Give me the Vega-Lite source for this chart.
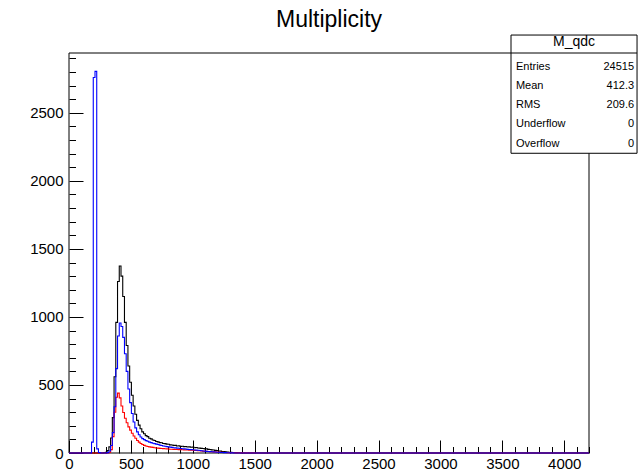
{
  "$schema": "https://vega.github.io/schema/vega-lite/v6.json",
  "width": 520,
  "height": 400,
  "autosize": {"type": "none"},
  "padding": {"left": 69, "top": 53, "right": 49, "bottom": 19},
  "background": "white",
  "config": {"view": {"stroke": null}, "font": "Liberation Sans"},
  "title": {"text": "Multiplicity", "fontSize": 23, "font": "Liberation Sans", "fontWeight": "normal", "color": "black", "anchor": "middle", "offset": 3},
  "datasets": {
    "hist": [
      {"s": "black", "x": 0, "n": 0},
      {"s": "black", "x": 280, "n": 2},
      {"s": "black", "x": 294, "n": 6},
      {"s": "black", "x": 308, "n": 18},
      {"s": "black", "x": 322, "n": 45},
      {"s": "black", "x": 336, "n": 110},
      {"s": "black", "x": 350, "n": 260},
      {"s": "black", "x": 364, "n": 560},
      {"s": "black", "x": 378, "n": 960},
      {"s": "black", "x": 392, "n": 1260},
      {"s": "black", "x": 406, "n": 1375},
      {"s": "black", "x": 420, "n": 1300},
      {"s": "black", "x": 434, "n": 1150},
      {"s": "black", "x": 448, "n": 960},
      {"s": "black", "x": 462, "n": 790},
      {"s": "black", "x": 476, "n": 640},
      {"s": "black", "x": 490, "n": 520},
      {"s": "black", "x": 504, "n": 425},
      {"s": "black", "x": 518, "n": 345},
      {"s": "black", "x": 532, "n": 285},
      {"s": "black", "x": 546, "n": 240},
      {"s": "black", "x": 560, "n": 205},
      {"s": "black", "x": 574, "n": 178},
      {"s": "black", "x": 588, "n": 155},
      {"s": "black", "x": 602, "n": 142},
      {"s": "black", "x": 616, "n": 128},
      {"s": "black", "x": 630, "n": 120},
      {"s": "black", "x": 644, "n": 108},
      {"s": "black", "x": 658, "n": 104},
      {"s": "black", "x": 672, "n": 96},
      {"s": "black", "x": 686, "n": 92},
      {"s": "black", "x": 700, "n": 85},
      {"s": "black", "x": 714, "n": 82},
      {"s": "black", "x": 728, "n": 76},
      {"s": "black", "x": 742, "n": 75},
      {"s": "black", "x": 756, "n": 70},
      {"s": "black", "x": 770, "n": 69},
      {"s": "black", "x": 784, "n": 65},
      {"s": "black", "x": 798, "n": 64},
      {"s": "black", "x": 812, "n": 60},
      {"s": "black", "x": 826, "n": 59},
      {"s": "black", "x": 840, "n": 56},
      {"s": "black", "x": 854, "n": 56},
      {"s": "black", "x": 868, "n": 52},
      {"s": "black", "x": 882, "n": 53},
      {"s": "black", "x": 896, "n": 49},
      {"s": "black", "x": 910, "n": 50},
      {"s": "black", "x": 924, "n": 47},
      {"s": "black", "x": 938, "n": 48},
      {"s": "black", "x": 952, "n": 44},
      {"s": "black", "x": 966, "n": 45},
      {"s": "black", "x": 980, "n": 42},
      {"s": "black", "x": 994, "n": 43},
      {"s": "black", "x": 1008, "n": 39},
      {"s": "black", "x": 1022, "n": 40},
      {"s": "black", "x": 1036, "n": 37},
      {"s": "black", "x": 1050, "n": 36},
      {"s": "black", "x": 1064, "n": 34},
      {"s": "black", "x": 1078, "n": 33},
      {"s": "black", "x": 1092, "n": 30},
      {"s": "black", "x": 1106, "n": 30},
      {"s": "black", "x": 1120, "n": 27},
      {"s": "black", "x": 1134, "n": 26},
      {"s": "black", "x": 1148, "n": 23},
      {"s": "black", "x": 1162, "n": 22},
      {"s": "black", "x": 1176, "n": 19},
      {"s": "black", "x": 1190, "n": 18},
      {"s": "black", "x": 1204, "n": 15},
      {"s": "black", "x": 1218, "n": 14},
      {"s": "black", "x": 1232, "n": 11},
      {"s": "black", "x": 1246, "n": 10},
      {"s": "black", "x": 1260, "n": 8},
      {"s": "black", "x": 1274, "n": 7},
      {"s": "black", "x": 1288, "n": 6},
      {"s": "black", "x": 1302, "n": 5},
      {"s": "black", "x": 1316, "n": 4},
      {"s": "black", "x": 1330, "n": 3},
      {"s": "black", "x": 1344, "n": 3},
      {"s": "black", "x": 1358, "n": 2},
      {"s": "black", "x": 1372, "n": 2},
      {"s": "black", "x": 1386, "n": 1},
      {"s": "black", "x": 1400, "n": 1},
      {"s": "black", "x": 1414, "n": 0},
      {"s": "black", "x": 4200, "n": 0},
      {"s": "red", "x": 0, "n": 0},
      {"s": "red", "x": 322, "n": 4},
      {"s": "red", "x": 336, "n": 25},
      {"s": "red", "x": 350, "n": 120},
      {"s": "red", "x": 364, "n": 300},
      {"s": "red", "x": 378, "n": 410},
      {"s": "red", "x": 392, "n": 440},
      {"s": "red", "x": 406, "n": 405},
      {"s": "red", "x": 420, "n": 345},
      {"s": "red", "x": 434, "n": 298},
      {"s": "red", "x": 448, "n": 255},
      {"s": "red", "x": 462, "n": 222},
      {"s": "red", "x": 476, "n": 192},
      {"s": "red", "x": 490, "n": 168},
      {"s": "red", "x": 504, "n": 145},
      {"s": "red", "x": 518, "n": 125},
      {"s": "red", "x": 532, "n": 108},
      {"s": "red", "x": 546, "n": 92},
      {"s": "red", "x": 560, "n": 80},
      {"s": "red", "x": 574, "n": 70},
      {"s": "red", "x": 588, "n": 62},
      {"s": "red", "x": 602, "n": 56},
      {"s": "red", "x": 616, "n": 52},
      {"s": "red", "x": 630, "n": 48},
      {"s": "red", "x": 644, "n": 45},
      {"s": "red", "x": 658, "n": 43},
      {"s": "red", "x": 672, "n": 41},
      {"s": "red", "x": 686, "n": 39},
      {"s": "red", "x": 700, "n": 37},
      {"s": "red", "x": 714, "n": 36},
      {"s": "red", "x": 728, "n": 34},
      {"s": "red", "x": 742, "n": 33},
      {"s": "red", "x": 756, "n": 32},
      {"s": "red", "x": 770, "n": 31},
      {"s": "red", "x": 784, "n": 30},
      {"s": "red", "x": 798, "n": 29},
      {"s": "red", "x": 812, "n": 28},
      {"s": "red", "x": 826, "n": 28},
      {"s": "red", "x": 840, "n": 27},
      {"s": "red", "x": 854, "n": 26},
      {"s": "red", "x": 868, "n": 26},
      {"s": "red", "x": 882, "n": 25},
      {"s": "red", "x": 896, "n": 25},
      {"s": "red", "x": 910, "n": 24},
      {"s": "red", "x": 924, "n": 23},
      {"s": "red", "x": 938, "n": 23},
      {"s": "red", "x": 952, "n": 22},
      {"s": "red", "x": 966, "n": 21},
      {"s": "red", "x": 980, "n": 21},
      {"s": "red", "x": 994, "n": 20},
      {"s": "red", "x": 1008, "n": 19},
      {"s": "red", "x": 1022, "n": 18},
      {"s": "red", "x": 1036, "n": 17},
      {"s": "red", "x": 1050, "n": 16},
      {"s": "red", "x": 1064, "n": 15},
      {"s": "red", "x": 1078, "n": 14},
      {"s": "red", "x": 1092, "n": 13},
      {"s": "red", "x": 1106, "n": 12},
      {"s": "red", "x": 1120, "n": 11},
      {"s": "red", "x": 1134, "n": 10},
      {"s": "red", "x": 1148, "n": 9},
      {"s": "red", "x": 1162, "n": 8},
      {"s": "red", "x": 1176, "n": 8},
      {"s": "red", "x": 1190, "n": 7},
      {"s": "red", "x": 1204, "n": 6},
      {"s": "red", "x": 1218, "n": 6},
      {"s": "red", "x": 1232, "n": 5},
      {"s": "red", "x": 1246, "n": 4},
      {"s": "red", "x": 1260, "n": 4},
      {"s": "red", "x": 1274, "n": 3},
      {"s": "red", "x": 1288, "n": 3},
      {"s": "red", "x": 1302, "n": 2},
      {"s": "red", "x": 1316, "n": 2},
      {"s": "red", "x": 1330, "n": 2},
      {"s": "red", "x": 1344, "n": 1},
      {"s": "red", "x": 1358, "n": 1},
      {"s": "red", "x": 1372, "n": 2},
      {"s": "red", "x": 1386, "n": 1},
      {"s": "red", "x": 1400, "n": 1},
      {"s": "red", "x": 1414, "n": 0},
      {"s": "red", "x": 1428, "n": 1},
      {"s": "red", "x": 1442, "n": 0},
      {"s": "red", "x": 1456, "n": 1},
      {"s": "red", "x": 1470, "n": 0},
      {"s": "red", "x": 1484, "n": 1},
      {"s": "red", "x": 1498, "n": 0},
      {"s": "red", "x": 4200, "n": 0},
      {"s": "blue", "x": 0, "n": 0},
      {"s": "blue", "x": 182, "n": 80},
      {"s": "blue", "x": 196, "n": 2760},
      {"s": "blue", "x": 210, "n": 2805},
      {"s": "blue", "x": 224, "n": 30},
      {"s": "blue", "x": 238, "n": 4},
      {"s": "blue", "x": 252, "n": 0},
      {"s": "blue", "x": 308, "n": 3},
      {"s": "blue", "x": 322, "n": 15},
      {"s": "blue", "x": 336, "n": 55},
      {"s": "blue", "x": 350, "n": 150},
      {"s": "blue", "x": 364, "n": 340},
      {"s": "blue", "x": 378, "n": 620},
      {"s": "blue", "x": 392, "n": 860},
      {"s": "blue", "x": 406, "n": 955},
      {"s": "blue", "x": 420, "n": 930},
      {"s": "blue", "x": 434, "n": 850},
      {"s": "blue", "x": 448, "n": 730},
      {"s": "blue", "x": 462, "n": 600},
      {"s": "blue", "x": 476, "n": 470},
      {"s": "blue", "x": 490, "n": 370},
      {"s": "blue", "x": 504, "n": 290},
      {"s": "blue", "x": 518, "n": 228},
      {"s": "blue", "x": 532, "n": 185},
      {"s": "blue", "x": 546, "n": 155},
      {"s": "blue", "x": 560, "n": 134},
      {"s": "blue", "x": 574, "n": 118},
      {"s": "blue", "x": 588, "n": 106},
      {"s": "blue", "x": 602, "n": 98},
      {"s": "blue", "x": 616, "n": 91},
      {"s": "blue", "x": 630, "n": 86},
      {"s": "blue", "x": 644, "n": 80},
      {"s": "blue", "x": 658, "n": 76},
      {"s": "blue", "x": 672, "n": 72},
      {"s": "blue", "x": 686, "n": 69},
      {"s": "blue", "x": 700, "n": 65},
      {"s": "blue", "x": 714, "n": 62},
      {"s": "blue", "x": 728, "n": 58},
      {"s": "blue", "x": 742, "n": 55},
      {"s": "blue", "x": 756, "n": 52},
      {"s": "blue", "x": 770, "n": 50},
      {"s": "blue", "x": 784, "n": 47},
      {"s": "blue", "x": 798, "n": 45},
      {"s": "blue", "x": 812, "n": 43},
      {"s": "blue", "x": 826, "n": 41},
      {"s": "blue", "x": 840, "n": 39},
      {"s": "blue", "x": 854, "n": 38},
      {"s": "blue", "x": 868, "n": 36},
      {"s": "blue", "x": 882, "n": 35},
      {"s": "blue", "x": 896, "n": 33},
      {"s": "blue", "x": 910, "n": 31},
      {"s": "blue", "x": 924, "n": 30},
      {"s": "blue", "x": 938, "n": 29},
      {"s": "blue", "x": 952, "n": 27},
      {"s": "blue", "x": 966, "n": 26},
      {"s": "blue", "x": 980, "n": 25},
      {"s": "blue", "x": 994, "n": 24},
      {"s": "blue", "x": 1008, "n": 22},
      {"s": "blue", "x": 1022, "n": 21},
      {"s": "blue", "x": 1036, "n": 20},
      {"s": "blue", "x": 1050, "n": 18},
      {"s": "blue", "x": 1064, "n": 17},
      {"s": "blue", "x": 1078, "n": 15},
      {"s": "blue", "x": 1092, "n": 14},
      {"s": "blue", "x": 1106, "n": 12},
      {"s": "blue", "x": 1120, "n": 11},
      {"s": "blue", "x": 1134, "n": 10},
      {"s": "blue", "x": 1148, "n": 9},
      {"s": "blue", "x": 1162, "n": 8},
      {"s": "blue", "x": 1176, "n": 7},
      {"s": "blue", "x": 1190, "n": 6},
      {"s": "blue", "x": 1204, "n": 5},
      {"s": "blue", "x": 1218, "n": 4},
      {"s": "blue", "x": 1232, "n": 4},
      {"s": "blue", "x": 1246, "n": 3},
      {"s": "blue", "x": 1260, "n": 3},
      {"s": "blue", "x": 1274, "n": 2},
      {"s": "blue", "x": 1288, "n": 2},
      {"s": "blue", "x": 1302, "n": 1},
      {"s": "blue", "x": 1316, "n": 1},
      {"s": "blue", "x": 1330, "n": 0},
      {"s": "blue", "x": 4200, "n": 0}
    ],
    "stats": [
      {"name": "M_qdc", "labels": "Entries\nMean\nRMS\nUnderflow\nOverflow", "vals": "24515\n412.3\n209.6\n0\n0"}
    ]
  },
  "layer": [
    {
      "data": {"values": [{}]},
      "mark": {"type": "rect", "fill": null, "stroke": "black", "strokeWidth": 1},
      "encoding": {
        "x": {"datum": 0, "type": "quantitative"},
        "x2": {"datum": 4200},
        "y": {"datum": 0, "type": "quantitative"},
        "y2": {"datum": 2940}
      }
    },
    {
      "data": {"name": "hist"},
      "mark": {"type": "line", "interpolate": "step-after", "strokeWidth": 1.1},
      "encoding": {
        "x": {
          "field": "x", "type": "quantitative",
          "scale": {"domain": [0, 4200], "nice": false, "zero": false},
          "axis": {
            "title": null, "domain": false, "grid": false, "format": "d",
            "tickCount": 200,
            "values": [0,100,200,300,400,500,600,700,800,900,1000,1100,1200,1300,1400,1500,1600,1700,1800,1900,2000,2100,2200,2300,2400,2500,2600,2700,2800,2900,3000,3100,3200,3300,3400,3500,3600,3700,3800,3900,4000,4100,4200],
            "labelExpr": "datum.value % 500 === 0 ? datum.label : ''",
            "labelOverlap": false, "labelFlush": false,
            "labelFontSize": 15, "labelColor": "black", "labelFont": "Liberation Sans",
            "labelPadding": 16,
            "tickColor": "black",
            "tickSize": {"condition": {"test": "datum.value % 500 === 0", "value": -13}, "value": -6.5}
          }
        },
        "y": {
          "field": "n", "type": "quantitative",
          "scale": {"domain": [0, 2940], "nice": false, "zero": false},
          "axis": {
            "title": null, "domain": false, "grid": false, "format": "d",
            "tickCount": 200,
            "values": [0,100,200,300,400,500,600,700,800,900,1000,1100,1200,1300,1400,1500,1600,1700,1800,1900,2000,2100,2200,2300,2400,2500,2600,2700,2800,2900],
            "labelExpr": "datum.value % 500 === 0 ? datum.label : ''",
            "labelOverlap": false, "labelFlush": false,
            "labelFontSize": 15, "labelColor": "black", "labelFont": "Liberation Sans",
            "labelPadding": 20,
            "tickColor": "black",
            "tickSize": {"condition": {"test": "datum.value % 500 === 0", "value": -14}, "value": -6.5}
          }
        },
        "color": {"field": "s", "type": "nominal", "scale": {"domain": ["black", "red", "blue"], "range": ["#000000", "#ff0000", "#0000ff"]}, "legend": null}
      }
    },
    {
      "data": {"name": "stats"},
      "mark": {"type": "rect", "fill": "white", "stroke": "black", "strokeWidth": 1},
      "encoding": {
        "x": {"datum": 3570, "type": "quantitative"},
        "x2": {"datum": 4588},
        "y": {"datum": 2203, "type": "quantitative"},
        "y2": {"datum": 3072}
      }
    },
    {
      "data": {"name": "stats"},
      "mark": {"type": "rule", "stroke": "black", "strokeWidth": 1},
      "encoding": {
        "x": {"datum": 3570, "type": "quantitative"},
        "x2": {"datum": 4588},
        "y": {"datum": 2940, "type": "quantitative"}
      }
    },
    {
      "data": {"name": "stats"},
      "mark": {"type": "text", "align": "center", "baseline": "middle", "fontSize": 14, "font": "Liberation Sans", "color": "black"},
      "encoding": {
        "x": {"datum": 4079, "type": "quantitative"},
        "y": {"datum": 3023, "type": "quantitative"},
        "text": {"field": "name"}
      }
    },
    {
      "data": {"name": "stats"},
      "mark": {"type": "text", "align": "left", "baseline": "middle", "fontSize": 11, "font": "Liberation Sans", "color": "black", "lineBreak": "\n", "lineHeight": 19.2},
      "encoding": {
        "x": {"datum": 3610, "type": "quantitative"},
        "y": {"datum": 2839, "type": "quantitative"},
        "text": {"field": "labels"}
      }
    },
    {
      "data": {"name": "stats"},
      "mark": {"type": "text", "align": "right", "baseline": "middle", "fontSize": 11, "font": "Liberation Sans", "color": "black", "lineBreak": "\n", "lineHeight": 19.2},
      "encoding": {
        "x": {"datum": 4564, "type": "quantitative"},
        "y": {"datum": 2839, "type": "quantitative"},
        "text": {"field": "vals"}
      }
    }
  ]
}
